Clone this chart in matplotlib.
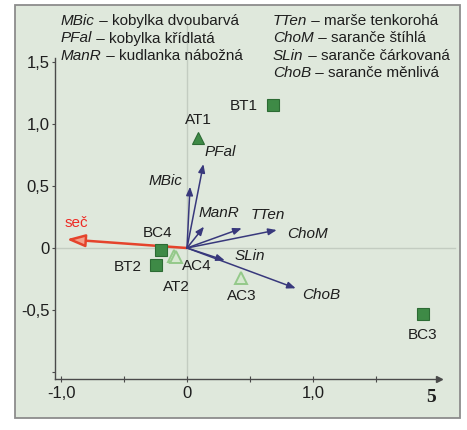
import matplotlib
matplotlib.use('Agg')
import matplotlib.pyplot as plt
from matplotlib.patches import Rectangle

plt.rcParams['font.family'] = ['Liberation Sans', 'DejaVu Sans']

# ---------------- data ----------------
site_names = ['BT1', 'AT1', 'BC4', 'BT2', 'AC4', 'AT2', 'AC3', 'BC3']
site_x = [0.68, 0.09, -0.21, -0.25, -0.10, -0.09, 0.43, 1.87]
site_y = [1.15, 0.89, -0.02, -0.14, -0.065, -0.07, -0.24, -0.53]
site_kind = ['square', 'tri_fill', 'square', 'square', 'tri_open', 'tri_open', 'tri_open', 'square']

species_names = ['MBic', 'PFal', 'ManR', 'TTen', 'ChoM', 'SLin', 'ChoB']
species_x = [0.024, 0.13, 0.135, 0.434, 0.712, 0.30, 0.863]
species_y = [0.494, 0.677, 0.172, 0.159, 0.145, -0.10, -0.325]

env_name = 'seč'
env_x = -0.955
env_y = 0.07

legend_left_codes = ['MBic', 'PFal', 'ManR']
legend_left_names = ['kobylka dvoubarvá', 'kobylka křídlatá', 'kudlanka nábožná']
legend_right_codes = ['TTen', 'ChoM', 'SLin', 'ChoB']
legend_right_names = ['marše tenkorohá', 'saranče štíhlá', 'saranče čárkovaná', 'saranče měnlivá']

x_ticks = [-1.0, -0.5, 0.0, 0.5, 1.0, 1.5]
x_ticklabels = ['-1,0', '', '0', '', '1,0', '']
y_ticks = [-1.0, -0.5, 0.0, 0.5, 1.0, 1.5]
y_ticklabels = ['', '-0,5', '0', '0,5', '1,0', '1,5']
panel_number = '5'

# ---------------- layout / styles ----------------
W, H = 467, 430
OX, OY = 187, 248          # pixel position of data origin
SX, SY = 126, 124          # pixels per data unit
AXIS_POS = -1.05           # where the drawn axes cross

site_label_offsets = {      # pixels (dx right, dy up)
    'BT1': (-15, -1, 'right'), 'AT1': (0, 17.7, 'center'), 'BC4': (-2.5, 17, 'center'),
    'BT2': (-14, -1.3, 'right'), 'AC4': (7.7, -10, 'left'), 'AT2': (0.8, -30.3, 'center'),
    'AC3': (1, -18.3, 'center'), 'BC3': (0, -21, 'center'),
}
species_label_offsets = {
    'MBic': (-8, 5.7, 'right'), 'PFal': (0.7, 12, 'left'), 'ManR': (-5, 13.7, 'left'),
    'TTen': (9.3, 13.3, 'left'), 'ChoM': (10.3, -4, 'left'), 'SLin': (10, 4.7, 'left'),
    'ChoB': (6.3, -6.7, 'left'),
}
marker_styles = {
    'square': dict(marker='s', ms=9.2, mfc='#3e8a46', mec='#2c6b34', mew=0.8),
    'tri_fill': dict(marker='^', ms=8.5, mfc='#3e8a46', mec='#2c6b34', mew=0.8),
    'tri_open': dict(marker='^', ms=8.5, mfc='#d6e8d0', mec='#94c98a', mew=1.4),
}
AX_COL = '#4a4a4a'
TXT_COL = '#1e1e1e'

fig = plt.figure(figsize=(W / 100, H / 100), dpi=100)
fig.patch.set_facecolor('white')
fig.add_artist(Rectangle((15 / W, 1 - 418 / H), 445 / W, 413 / H, transform=fig.transFigure,
                         facecolor='#dfe8dc', edgecolor='#8c8c8c', lw=1.3, zorder=-5))

ax = fig.add_axes([0, 0, 1, 1])
ax.patch.set_alpha(0)
xmin, xmax = -OX / SX, (W - OX) / SX
ymin, ymax = (OY - H) / SY, OY / SY
ax.set_xlim(xmin, xmax)
ax.set_ylim(ymin, ymax)

for s in ['top', 'right']:
    ax.spines[s].set_visible(False)
ax.spines['left'].set_position(('data', AXIS_POS))
ax.spines['bottom'].set_position(('data', AXIS_POS - 0.005))
ax.spines['left'].set_bounds(AXIS_POS - 0.005, 1.53)
ax.spines['bottom'].set_bounds(AXIS_POS, 2.0)
for s in ['left', 'bottom']:
    ax.spines[s].set_color(AX_COL)
    ax.spines[s].set_linewidth(1.0)
ax.plot([2.0], [AXIS_POS - 0.005], marker='>', ms=4, color=AX_COL, clip_on=False)

ax.set_xticks(x_ticks, x_ticklabels)
ax.set_yticks(y_ticks, y_ticklabels)
ax.tick_params(axis='x', direction='inout', length=5, width=0.8, pad=2.5,
               labelsize=12, colors=AX_COL, labelcolor=TXT_COL)
ax.tick_params(axis='y', direction='out', length=2.5, width=0.8, pad=1.2,
               labelsize=12, colors=AX_COL, labelcolor=TXT_COL)

# faint zero lines
ax.axvline(0, ymin=(AXIS_POS - ymin) / (ymax - ymin), ymax=(ymax - 25 / SY - ymin) / (ymax - ymin),
           color='#c3ccc1', lw=1, zorder=1)
ax.axhline(0, xmin=(AXIS_POS - xmin) / (xmax - xmin), xmax=(2.13 - xmin) / (xmax - xmin),
           color='#c3ccc1', lw=1, zorder=1)

# species arrows
for name, x, y in zip(species_names, species_x, species_y):
    ax.annotate('', xy=(x, y), xytext=(0, 0),
                arrowprops=dict(arrowstyle='-|>,head_length=0.5,head_width=0.2',
                                color='#38387c', lw=1.1, shrinkA=0, shrinkB=0,
                                mutation_scale=10), zorder=4)
    dx, dy, ha = species_label_offsets[name]
    ax.annotate(name, xy=(x, y), xytext=(dx, dy), textcoords='offset pixels',
                ha=ha, va='center', fontsize=11, style='italic', color=TXT_COL, zorder=6)

# environmental arrow
ax.annotate('', xy=(env_x, env_y), xytext=(0, 0),
            arrowprops=dict(arrowstyle='-|>,head_length=1.1,head_width=0.38',
                            facecolor='#f3a08c', edgecolor='#e5432c', lw=1.8,
                            shrinkA=0, shrinkB=0, mutation_scale=10), zorder=3)
ax.annotate(env_name, xy=(env_x, env_y), xytext=(10, 16.5), textcoords='offset pixels',
            ha='center', va='center', fontsize=11, color='#ee2a24', zorder=6)

# site points
for name, x, y, kind in zip(site_names, site_x, site_y, site_kind):
    ax.plot([x], [y], linestyle='none', zorder=5, **marker_styles[kind])
    dx, dy, ha = site_label_offsets[name]
    ax.annotate(name, xy=(x, y), xytext=(dx, dy), textcoords='offset pixels',
                ha=ha, va='center', fontsize=11, color=TXT_COL, zorder=6)

# legend text at top
def legend_column(codes, names, x_px, y_px_list):
    for code, nm, ypx in zip(codes, names, y_px_list):
        t = fig.text(x_px / W, 1 - ypx / H, code, style='italic', fontsize=11,
                     color=TXT_COL, ha='left', va='center')
        ax.annotate(' – ' + nm, xy=(1, 0.5), xycoords=t, ha='left', va='center',
                    fontsize=11, color=TXT_COL)

rows = [21, 38.5, 56, 73]
legend_column(legend_left_codes, legend_left_names, 61, rows)
legend_column(legend_right_codes, legend_right_names, 273, rows)

fig.text(431 / W, 1 - 398 / H, panel_number, family='Liberation Serif', weight='bold',
         fontsize=14, color=TXT_COL, ha='center', va='center')

fig.savefig('out.png', dpi=100)
